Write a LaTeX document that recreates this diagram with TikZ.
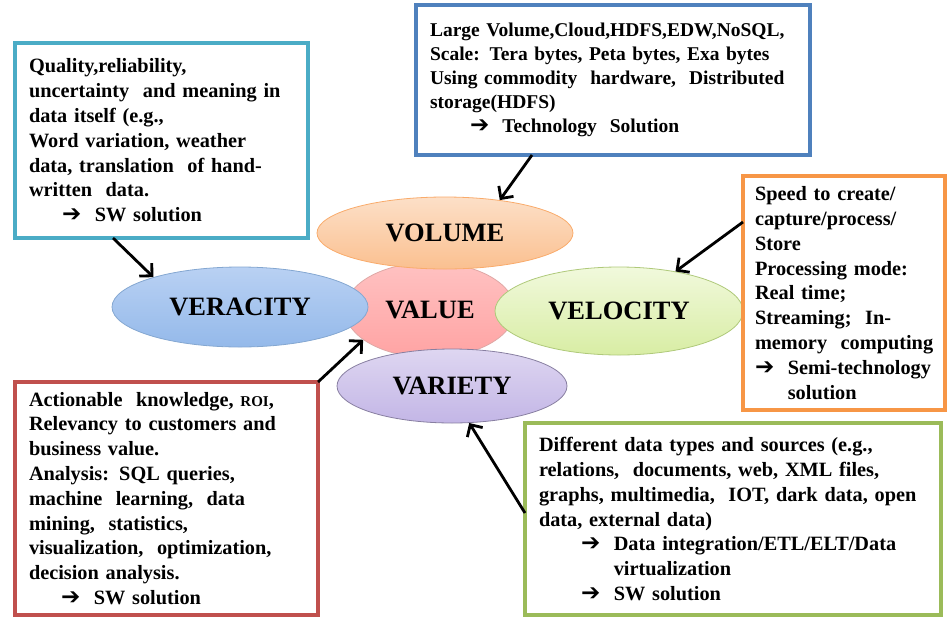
\documentclass[tikz,border=0pt]{standalone}
\usepackage{fontspec}
\setmainfont{Liberation Serif}
\newfontfamily\arrowfont{DejaVu Sans}
\usepackage{xcolor}
\usepackage{tikz}
\usetikzlibrary{calc,shapes.geometric,arrows.meta}

\definecolor{veraline}{HTML}{4BACC6}
\definecolor{volline}{HTML}{4F81BD}
\definecolor{veloline}{HTML}{F79646}
\definecolor{valline}{HTML}{C0504D}
\definecolor{variline}{HTML}{9BBB59}
\definecolor{veratop}{HTML}{B9D1F3}
\definecolor{verabot}{HTML}{94B9EA}
\definecolor{velotop}{HTML}{F1F9DC}
\definecolor{velobot}{HTML}{D8EDA4}
\definecolor{varitop}{HTML}{DED6F1}
\definecolor{varibot}{HTML}{C3B6E6}

\newcommand{\rarr}{{\arrowfont\fontsize{23}{20}\selectfont ➔}}
\newcommand{\nohyph}{\hyphenpenalty 10000 \exhyphenpenalty 10000\relax}

\begin{document}
\begin{tikzpicture}[x=1pt,y=-1pt,
    infobox/.style={draw, line width=3.2pt, fill=white, rectangle, anchor=north west,
      outer sep=0pt, inner xsep=14pt, align=left,
      font=\fontsize{20.3}{24.8}\selectfont\bfseries\nohyph},
    blob/.style={ellipse, draw, line width=0.8pt, inner sep=0pt,
      font=\fontsize{26.5}{28}\selectfont\bfseries},
    link/.style={line width=2.8pt, -{Straight Barb[length=9pt,width=18pt]}}]
  \useasboundingbox (0,0) rectangle (947,619);

  \node[blob, minimum width=170pt, minimum height=95pt, draw=valline!50,
    top color=red!24, bottom color=red!36] (val) at (430,310) {VALUE};
  \node[blob, minimum width=256pt, minimum height=72pt, draw=veloline!80,
    top color=veloline!30, bottom color=veloline!60] (vol) at (445,233) {VOLUME};
  \node[blob, minimum width=256pt, minimum height=80pt, draw=volline!70,
    top color=veratop, bottom color=verabot] (vera) at (240,307) {VERACITY};
  \node[blob, minimum width=248pt, minimum height=88pt, draw=variline!80,
    top color=velotop, bottom color=velobot] (velo) at (619,311) {VELOCITY};
  \node[blob, minimum width=230pt, minimum height=74pt, draw=varibot!70!black,
    top color=varitop, bottom color=varibot] (vari) at (452,386) {VARIETY};

  \node[infobox, draw=veraline, text width=265pt, minimum height=195pt] (verbox) at (15,43)
    {Quality,reliability,\\
     uncertainty\ \ and meaning in\\
     data itself (e.g.,\\
     Word variation, weather\\
     data, translation\ \ of hand-\\
     written\ \ data.\\
     \hspace*{33pt}\rarr\ \ SW solution};
  \node[infobox, draw=volline, text width=366pt, minimum height=150pt,
    font=\fontsize{19.5}{24}\selectfont\bfseries\nohyph] (volbox) at (416,5)
    {Large Volume,Cloud,HDFS,EDW,NoSQL,\\
     Scale: Tera bytes, Peta bytes, Exa bytes\\
     Using commodity\ \ hardware,\ \ Distributed\\
     storage(HDFS)\\
     \hspace*{40pt}\rarr\ \ Technology\ \ Solution};
  \node[infobox, draw=veloline, inner xsep=12pt, text width=178pt, minimum height=234pt] (velbox) at (743,176)
    {Speed to create/\\
     capture/process/\\
     Store\\
     Processing mode:\\
     Real time;\\
     Streaming;\ \ In-\\
     \mbox{memory\ \ computing}\\
     \rarr\ \ Semi-technology\\
     \phantom{\rarr\ \ }solution};
  \node[infobox, draw=valline, text width=275pt, minimum height=233pt] (valbox) at (15,382)
    {Actionable\ \ knowledge, {\fontsize{15}{15}\selectfont ROI},\\
     Relevancy to customers and\\
     business value.\\
     Analysis: SQL queries,\\
     machine\ \ learning,\ \ data\\
     mining,\ \ statistics,\\
     visualization,\ \ optimization,\\
     decision analysis.\\
     \hspace*{32pt}\rarr\ \ SW solution};
  \node[infobox, draw=variline, text width=388pt, minimum height=192pt] (varbox) at (525,423)
    {Different data types and sources (e.g.,\\
     relations,\ \ documents, web, XML files,\\
     graphs, multimedia,\ \ IOT, dark data, open\\
     data, external data)\\
     \hspace*{42pt}\rarr\ \ Data integration/ETL/ELT/Data\\
     \hspace*{42pt}\phantom{\rarr\ \ }virtualization\\
     \hspace*{42pt}\rarr\ \ SW solution};

  \draw[link] ($(verbox.south west)+(98,0)$) -- (vera.161);
  \draw[link] ($(volbox.south west)+(116,0)$) -- (vol.31);
  \draw[link] ($(velbox.north west)+(0,46)$) -- (velo.35);
  \draw[link] (valbox.north east) -- (val.204);
  \draw[link] ($(varbox.north west)+(0,90)$) -- (vari.-65);
\end{tikzpicture}
\end{document}
